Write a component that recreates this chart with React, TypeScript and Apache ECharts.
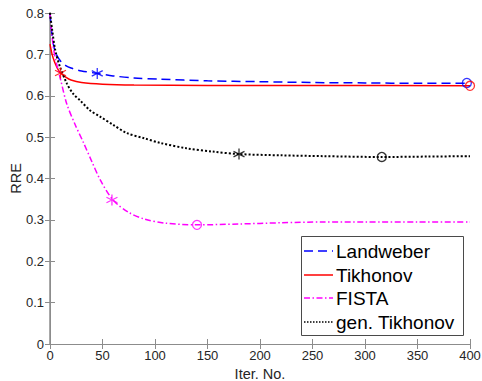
import React, { useEffect, useRef } from "react";
import * as echarts from "echarts";

const xTicks = [0, 50, 100, 150, 200, 250, 300, 350, 400];
const yTicks = [0, 0.1, 0.2, 0.3, 0.4, 0.5, 0.6, 0.7, 0.8];

const landweber: [number, number][] = [
  [0, 0.8], [2, 0.745], [4, 0.715], [6, 0.7], [10, 0.684], [15, 0.673], [20, 0.667],
  [30, 0.66], [45, 0.654], [60, 0.648], [80, 0.643], [105, 0.64], [150, 0.636],
  [200, 0.634], [250, 0.632], [300, 0.631], [350, 0.63], [398, 0.63],
];
const tikhonov: [number, number][] = [
  [0, 0.725], [2, 0.7], [4, 0.684], [6, 0.672], [8, 0.662], [10, 0.655], [15, 0.645],
  [20, 0.638], [30, 0.632], [50, 0.628], [80, 0.626], [150, 0.625], [250, 0.625], [400, 0.624],
];
const fista: [number, number][] = [
  [0, 0.8], [3, 0.72], [6, 0.68], [10, 0.64], [16, 0.58], [24, 0.53], [32, 0.486],
  [40, 0.44], [48, 0.396], [60, 0.348], [75, 0.318], [90, 0.302], [110, 0.292],
  [140, 0.288], [180, 0.29], [220, 0.293], [260, 0.295], [300, 0.295], [350, 0.295], [400, 0.295],
];
const genTikhonov: [number, number][] = [
  [0, 0.8], [2, 0.76], [5, 0.71], [9.5, 0.67], [16, 0.63], [22, 0.605], [29, 0.588],
  [38, 0.565], [48, 0.549], [60, 0.53], [73, 0.51], [90, 0.497], [105, 0.486],
  [130, 0.473], [155, 0.465], [180, 0.459], [220, 0.456], [260, 0.454], [316, 0.452],
  [360, 0.453], [400, 0.454],
];

// markers: [x, y]
const landweberStar: [number, number][] = [[45, 0.654]];
const landweberCircle: [number, number][] = [[397, 0.631]];
const tikhonovStar: [number, number][] = [[10, 0.655]];
const tikhonovCircle: [number, number][] = [[400, 0.624]];
const fistaStar: [number, number][] = [[59, 0.348]];
const fistaCircle: [number, number][] = [[140, 0.288]];
const genStar: [number, number][] = [[180, 0.459]];
const genCircle: [number, number][] = [[316, 0.452]];

const seriesNames = ["Landweber", "Tikhonov", "FISTA", "gen. Tikhonov"];
const colors = ["#0000ff", "#ff0000", "#ff00ff", "#000000"];

const STAR = "path://M0,-5L0,5M-4.33,-2.5L4.33,2.5M-4.33,2.5L4.33,-2.5";
const FONT = "'Liberation Sans', Arial, Helvetica, sans-serif";

export default function App() {
  const ref = useRef<HTMLDivElement>(null);
  useEffect(() => {
    if (!ref.current) return;
    const chart = echarts.init(ref.current, undefined, { renderer: "svg" });
    const lineTypes: any[] = [[9, 5], "solid", [6, 2.5, 1.5, 2.5], [2, 2]];
    const legendDash: any[] = [[9, 5], null, [6, 2.5, 1.5, 2.5], [1.5, 1.5]];
    const lineWidths = [1.5, 1.5, 1.5, 2];
    const datas = [landweber, tikhonov, fista, genTikhonov];
    const stars = [landweberStar, tikhonovStar, fistaStar, genStar];
    const circles = [landweberCircle, tikhonovCircle, fistaCircle, genCircle];

    const series: any[] = [];
    datas.forEach((d, i) => {
      series.push({
        name: seriesNames[i],
        type: "line",
        data: d,
        smooth: 0.3,
        symbol: "none",
        lineStyle: { color: colors[i], width: lineWidths[i], type: lineTypes[i] },
        itemStyle: { color: colors[i] },
        z: 3,
      });
    });
    stars.forEach((d, i) => {
      series.push({
        type: "scatter",
        data: d,
        symbol: STAR,
        symbolSize: 11,
        itemStyle: { color: "none", borderColor: colors[i], borderWidth: 1.3 },
        z: 4,
      });
    });
    circles.forEach((d, i) => {
      series.push({
        type: "scatter",
        data: d,
        symbol: "circle",
        symbolSize: 9,
        itemStyle: { color: "none", borderColor: colors[i], borderWidth: 1.3 },
        z: 4,
      });
    });

    const axisCommon = {
      axisLine: { show: true, lineStyle: { color: "#8c8c8c", width: 1 } },
      axisTick: { show: true, inside: true, length: 5, lineStyle: { color: "#8c8c8c" } },
      splitLine: { show: false },
    };

    // legend drawn as graphic
    const legendRows = [251, 275, 298, 322];
    const legendChildren: any[] = [
      {
        type: "rect",
        shape: { x: 301.5, y: 236.5, width: 162, height: 99 },
        style: { fill: "#ffffff", stroke: "#4a4a4a", lineWidth: 1 },
      },
    ];
    seriesNames.forEach((name, i) => {
      legendChildren.push({
        type: "line",
        shape: { x1: 304, y1: legendRows[i], x2: 333, y2: legendRows[i] },
        style: {
          stroke: colors[i],
          lineWidth: 1.5,
          lineDash: legendDash[i] || undefined,
        },
      });
      legendChildren.push({
        type: "text",
        x: 336,
        y: legendRows[i],
        style: {
          text: name,
          fill: "#000000",
          font: `19px ${FONT}`,
          textVerticalAlign: "middle",
          verticalAlign: "middle",
        },
      });
    });

    chart.setOption({
      animation: false,
      backgroundColor: "#ffffff",
      grid: { left: 50, right: 12, top: 13, bottom: 37, containLabel: false, outerBoundsMode: "none" },
      graphic: [{ type: "group", z: 100, children: legendChildren }],
      xAxis: [
        {
          type: "value",
          min: 0,
          max: 400,
          interval: 50,
          name: "Iter. No.",
          nameLocation: "middle",
          nameGap: 22,
          nameMoveOverlap: false,
          nameTextStyle: { fontFamily: FONT, fontSize: 14.5, color: "#262626" },
          axisLabel: { fontFamily: FONT, fontSize: 13, color: "#262626", margin: 5 },
          ...axisCommon,
        },
        {
          type: "value",
          position: "top",
          min: 0,
          max: 400,
          interval: 50,
          axisLabel: { show: false },
          ...axisCommon,
        },
      ],
      yAxis: [
        {
          type: "value",
          min: 0,
          max: 0.8,
          interval: 0.1,
          name: "RRE",
          nameLocation: "middle",
          nameGap: 27,
          nameMoveOverlap: false,
          nameTextStyle: { fontFamily: FONT, fontSize: 14.5, color: "#262626" },
          axisLabel: {
            fontFamily: FONT,
            fontSize: 13,
            color: "#262626",
            margin: 6,
            formatter: (v: number) => String(+v.toFixed(1)),
          },
          ...axisCommon,
          axisLine: { show: true, lineStyle: { color: "#a8a8a8", width: 2 } },
        },
        {
          type: "value",
          position: "right",
          min: 0,
          max: 0.8,
          interval: 0.1,
          axisLabel: { show: false },
          ...axisCommon,
        },
      ],
      series,
    });
    return () => chart.dispose();
  }, []);
  return <div ref={ref} style={{ width: 482, height: 381, position: "absolute", left: 0, top: 0 }} />;
}
